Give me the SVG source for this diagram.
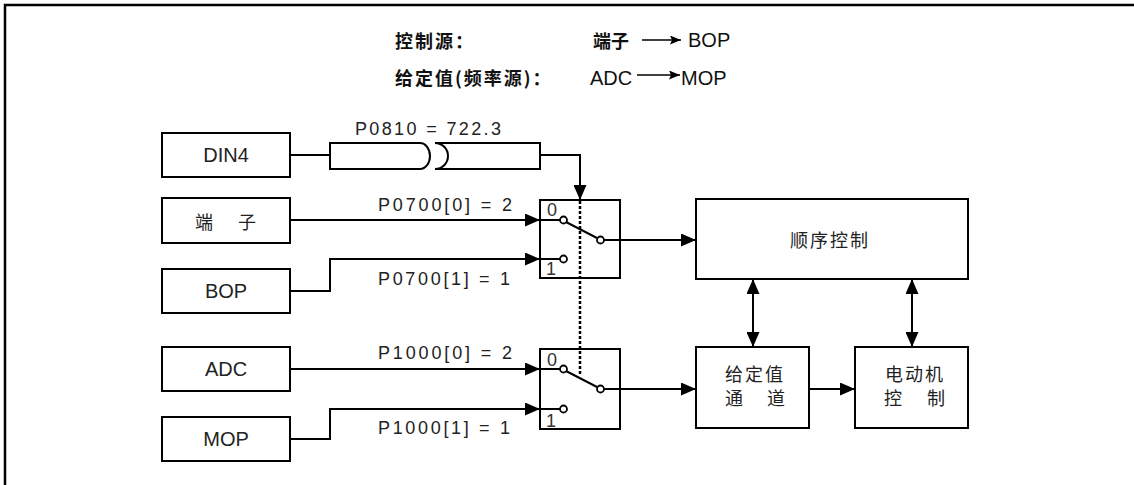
<svg xmlns="http://www.w3.org/2000/svg" width="1134" height="485" viewBox="0 0 1134 485">
<style>
.box{fill:#fff;stroke:#000;stroke-width:2}
.ln{fill:none;stroke:#000;stroke-width:2}
.lbl{font-family:"Liberation Sans","Noto Sans CJK SC",sans-serif;font-size:20px;fill:#222;text-anchor:middle}
.cjk{font-family:"Noto Sans CJK SC","Noto Sans CJK KR",sans-serif;font-size:18px;fill:#222}
.hdr{font-family:"Noto Sans CJK SC","Noto Sans CJK KR",sans-serif;font-size:18px;font-weight:bold;fill:#111;letter-spacing:2px}
.hl{font-family:"Liberation Sans",sans-serif;font-size:20px;fill:#111}
.par{font-family:"Liberation Sans",sans-serif;font-size:18px;fill:#222}
.dig{font-family:"Liberation Sans",sans-serif;font-size:18px;fill:#333}
.ct{fill:#fff;stroke:#000;stroke-width:1.8}
</style>
<defs>
<marker id="ah" markerUnits="userSpaceOnUse" markerWidth="15" markerHeight="13" refX="15" refY="6.5" orient="auto-start-reverse">
<path d="M0,0 L15,6.5 L0,13 z" fill="#000"/>
</marker>
<marker id="sh" markerUnits="userSpaceOnUse" markerWidth="11" markerHeight="9" refX="11" refY="4.5" orient="auto">
<path d="M0,0 L11,4.5 L0,9 L2,4.5 z" fill="#000"/>
</marker>
</defs>
<rect width="1134" height="485" fill="#fff"/>
<path d="M5,485 V5 H1134" fill="none" stroke="#000" stroke-width="2.5"/>

<g id="header">
<text class="hdr" x="395" y="48">控制源：</text>
<text class="hdr" x="395" y="85">给定值(频率源)：</text>
<text class="hdr" x="593" y="48" style="letter-spacing:0">端子</text>
<line x1="642" y1="40" x2="681" y2="40" stroke="#000" stroke-width="1.5" marker-end="url(#sh)"/>
<text class="hl" x="688" y="47">BOP</text>
<text class="hl" x="590" y="85">ADC</text>
<line x1="637" y1="75" x2="680" y2="75" stroke="#000" stroke-width="1.5" marker-end="url(#sh)"/>
<text class="hl" x="681" y="85">MOP</text>
</g>

<g id="din4"><rect class="box" x="162" y="133" width="128" height="44"/><text class="lbl" x="226" y="162">DIN4</text></g>
<g id="terminal"><rect class="box" x="162" y="198" width="128" height="45"/><text class="cjk"><tspan x="195" y="229">端</tspan><tspan x="238" y="229">子</tspan></text></g>
<g id="bop"><rect class="box" x="162" y="269" width="128" height="44"/><text class="lbl" x="226" y="298">BOP</text></g>
<g id="adc"><rect class="box" x="162" y="347" width="128" height="44"/><text class="lbl" x="226" y="376">ADC</text></g>
<g id="mop"><rect class="box" x="162" y="417" width="128" height="44"/><text class="lbl" x="226" y="446">MOP</text></g>

<g id="p0810">
<path class="box" d="M330,143 H420 A10,13 0 0 1 420,169 H330 Z"/>
<path class="box" d="M540,143 H435 A13,13 0 0 1 435,169 H540 Z"/>
<text class="par" x="428" y="135" text-anchor="middle" textLength="146" lengthAdjust="spacing">P0810 = 722.3</text>
</g>

<g id="switch1">
<rect class="box" x="540" y="200" width="80" height="78"/>
<text class="dig" x="547" y="216">0</text>
<text class="dig" x="546" y="275">1</text>
<line class="ln" x1="540" y1="220" x2="560" y2="220"/>
<line class="ln" x1="540" y1="259" x2="560" y2="259"/>
<line class="ln" x1="566" y1="222" x2="597" y2="238"/>
<line class="ln" x1="604" y1="240" x2="620" y2="240"/>
<circle class="ct" cx="563.5" cy="220" r="3.5"/>
<circle class="ct" cx="563.5" cy="259" r="3.5"/>
<circle class="ct" cx="600.5" cy="240" r="3.5"/>
</g>

<g id="switch2">
<rect class="box" x="540" y="349" width="80" height="80"/>
<text class="dig" x="547" y="366">0</text>
<text class="dig" x="546" y="427">1</text>
<line class="ln" x1="540" y1="369" x2="560" y2="369"/>
<line class="ln" x1="540" y1="409" x2="560" y2="409"/>
<line class="ln" x1="566" y1="371" x2="597" y2="387"/>
<line class="ln" x1="604" y1="389" x2="620" y2="389"/>
<circle class="ct" cx="563.5" cy="369" r="3.5"/>
<circle class="ct" cx="563.5" cy="409" r="3.5"/>
<circle class="ct" cx="600.5" cy="389" r="3.5"/>
</g>

<g id="seq"><rect class="box" x="696" y="199" width="272" height="80"/><text class="cjk" x="830" y="247" text-anchor="middle" style="letter-spacing:2px">顺序控制</text></g>
<g id="setpoint"><rect class="box" x="696" y="347" width="113" height="81"/><text class="cjk"><tspan x="725" y="381" style="letter-spacing:2px">给定值</tspan><tspan x="725" y="405">通</tspan><tspan x="767" y="405">道</tspan></text></g>
<g id="motor"><rect class="box" x="855" y="347" width="113" height="81"/><text class="cjk"><tspan x="885" y="381" style="letter-spacing:2px">电动机</tspan><tspan x="884" y="405">控</tspan><tspan x="927" y="405">制</tspan></text></g>

<g id="connectors">
<line class="ln" x1="290" y1="155" x2="330" y2="155"/>
<polyline class="ln" points="540,155 580,155 580,200" marker-end="url(#ah)"/>
<line x1="580" y1="201" x2="580" y2="376" stroke="#000" stroke-width="2.5" stroke-dasharray="3,2"/>
<line class="ln" x1="290" y1="220" x2="540" y2="220" marker-end="url(#ah)"/>
<polyline class="ln" points="290,291 330,291 330,259 540,259" marker-end="url(#ah)"/>
<line class="ln" x1="290" y1="369" x2="540" y2="369" marker-end="url(#ah)"/>
<polyline class="ln" points="290,439 330,439 330,409 540,409" marker-end="url(#ah)"/>
<line class="ln" x1="620" y1="240" x2="696" y2="240" marker-end="url(#ah)"/>
<line class="ln" x1="620" y1="389" x2="696" y2="389" marker-end="url(#ah)"/>
<line class="ln" x1="809" y1="389" x2="855" y2="389" marker-end="url(#ah)"/>
<line class="ln" x1="753" y1="279" x2="753" y2="347" marker-start="url(#ah)" marker-end="url(#ah)"/>
<line class="ln" x1="912" y1="279" x2="912" y2="347" marker-start="url(#ah)" marker-end="url(#ah)"/>
<text class="par" x="378" y="211" textLength="134" lengthAdjust="spacing">P0700[0] = 2</text>
<text class="par" x="378" y="285" textLength="132" lengthAdjust="spacing">P0700[1] = 1</text>
<text class="par" x="378" y="359" textLength="134" lengthAdjust="spacing">P1000[0] = 2</text>
<text class="par" x="378" y="434" textLength="132" lengthAdjust="spacing">P1000[1] = 1</text>
</g>
</svg>
